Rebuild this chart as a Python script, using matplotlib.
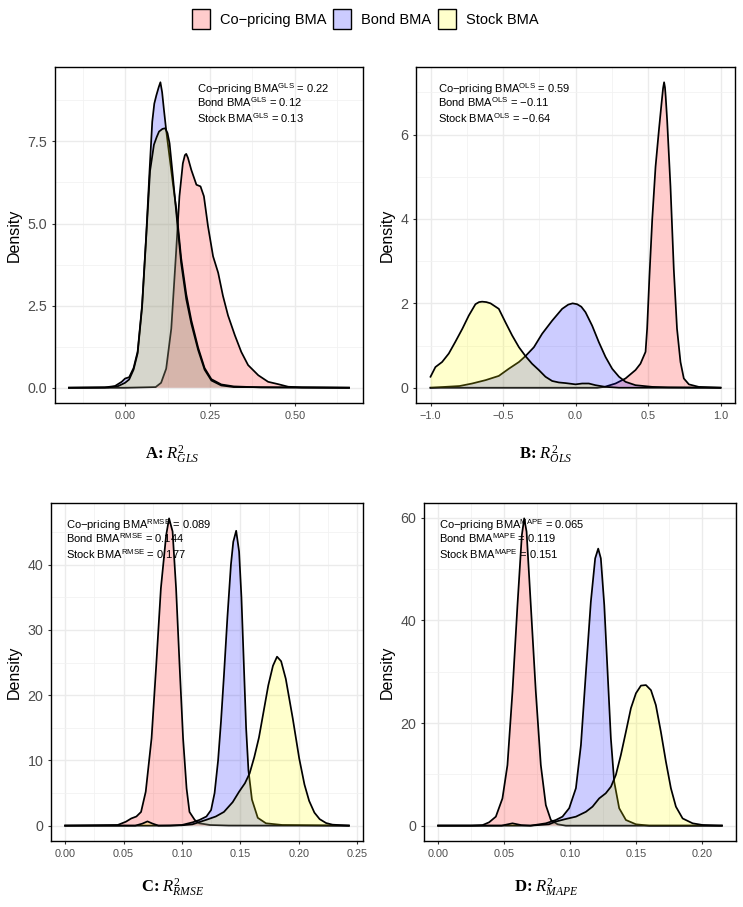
import matplotlib
matplotlib.use("Agg")
import matplotlib.pyplot as plt
from matplotlib.patches import Patch

plt.rcParams['font.family'] = ['Liberation Sans', 'DejaVu Sans']
plt.rcParams['mathtext.fontset'] = 'custom'
plt.rcParams['mathtext.rm'] = 'Liberation Sans'
plt.rcParams['mathtext.it'] = 'Liberation Serif:italic'
plt.rcParams['mathtext.bf'] = 'Liberation Serif:bold'
plt.rcParams['mathtext.sf'] = 'Liberation Serif'

# ---------------- data ----------------
series_names = ["Co\u2212pricing BMA", "Bond BMA", "Stock BMA"]
series_colors = ["#FFCCCC", "#CCCCFF", "#FFFFCC"]
fill_colors = ["red", "blue", "yellow"]

# Panel A: R2 GLS
A_cop_x = [-0.165, 0.0, 0.09, 0.106, 0.121, 0.136, 0.15, 0.16, 0.17, 0.176, 0.18, 0.185, 0.195, 0.21, 0.222, 0.232,
           0.244, 0.259, 0.274, 0.288, 0.303, 0.323, 0.342, 0.362, 0.392, 0.421, 0.45, 0.48, 0.52, 0.659]
A_cop_d = [0, 0, 0.02, 0.15, 0.58, 1.8, 4.1, 5.83, 6.83, 7.08, 7.12, 7.0, 6.63, 6.18, 6.13, 5.83,
           4.92, 4.0, 3.5, 2.8, 2.2, 1.6, 1.09, 0.69, 0.38, 0.18, 0.11, 0.03, 0.01, 0]
A_bond_x = [-0.165, -0.06, -0.03, -0.01, 0.0, 0.012, 0.025, 0.037, 0.05, 0.062, 0.072, 0.08, 0.086, 0.092,
            0.099, 0.104, 0.109, 0.114, 0.121, 0.13, 0.141, 0.151, 0.165, 0.18, 0.195, 0.215, 0.234,
            0.254, 0.283, 0.32, 0.40, 0.659]
A_bond_d = [0, 0.01, 0.05, 0.18, 0.28, 0.32, 0.6, 1.1, 2.5, 4.6, 6.6, 8.1, 8.65, 8.9,
            9.15, 9.3, 9.0, 8.5, 7.84, 7.1, 6.2, 5.42, 3.95, 2.85, 2.05, 1.22, 0.6,
            0.26, 0.1, 0.04, 0.01, 0]
A_stock_x = [-0.165, -0.05, -0.02, 0.0, 0.012, 0.025, 0.037, 0.05, 0.062, 0.0735, 0.085, 0.093, 0.1, 0.11,
             0.118, 0.125, 0.131, 0.141, 0.151, 0.165, 0.18, 0.195, 0.215, 0.234, 0.254, 0.283, 0.32, 0.659]
A_stock_d = [0, 0.01, 0.05, 0.15, 0.25, 0.55, 1.05, 2.45, 4.55, 6.6, 7.4, 7.63, 7.8, 7.88,
             7.9, 7.75, 7.44, 6.4, 5.3, 3.8, 2.7, 1.95, 1.15, 0.55, 0.22, 0.07, 0.02, 0]

# Panel B: R2 OLS
B_cop_x = [-1.0, 0.15, 0.2, 0.276, 0.345, 0.414, 0.448, 0.483, 0.494, 0.51, 0.529, 0.552, 0.575, 0.593,
           0.604, 0.611, 0.617, 0.622, 0.632, 0.655, 0.678, 0.70, 0.724, 0.747, 0.782, 0.85, 1.0]
B_cop_d = [0, 0, 0.02, 0.1, 0.22, 0.42, 0.57, 0.85, 1.4, 2.65, 3.98, 5.24, 6.1, 6.73,
           7.1, 7.24, 7.12, 6.9, 6.34, 4.77, 2.8, 1.4, 0.61, 0.22, 0.08, 0.02, 0]
B_bond_x = [-1.0, -0.8, -0.713, -0.62, -0.529, -0.46, -0.39, -0.345, -0.287, -0.23, -0.161, -0.092, -0.05,
            -0.02, 0.011, 0.04, 0.069, 0.115, 0.161, 0.207, 0.253, 0.3, 0.345, 0.414, 0.53, 0.64, 1.0]
B_bond_d = [0, 0.04, 0.1, 0.18, 0.28, 0.45, 0.61, 0.75, 0.96, 1.28, 1.59, 1.87, 1.97,
            2.0, 1.98, 1.92, 1.79, 1.47, 1.08, 0.73, 0.45, 0.26, 0.14, 0.06, 0.02, 0.01, 0]
B_stock_x = [-1.0, -0.966, -0.92, -0.874, -0.83, -0.78, -0.736, -0.69, -0.665, -0.644, -0.615, -0.586, -0.529,
             -0.483, -0.437, -0.39, -0.345, -0.30, -0.253, -0.207, -0.161, -0.115, -0.069, 0.0, 0.046, 0.092,
             0.138, 0.207, 0.3, 1.0]
B_stock_d = [0.26, 0.49, 0.61, 0.81, 1.08, 1.4, 1.71, 1.98, 2.03, 2.04, 2.03, 2.0, 1.87,
             1.55, 1.24, 0.96, 0.75, 0.57, 0.42, 0.26, 0.16, 0.125, 0.11, 0.08, 0.1, 0.1,
             0.06, 0.02, 0, 0]

# Panel C: R2 RMSE
C_cop_x = [0.0, 0.045, 0.052, 0.0566, 0.061, 0.065, 0.069, 0.074, 0.078, 0.082, 0.0865, 0.089, 0.092,
           0.095, 0.098, 0.101, 0.104, 0.1065, 0.111, 0.115, 0.124, 0.14, 0.243]
C_cop_d = [0, 0.1, 0.6, 1.1, 1.4, 2.1, 5.2, 13.4, 24.6, 36.4, 44.5, 47.1, 45.1,
           36.4, 24.6, 13.4, 5.7, 2.1, 0.87, 0.36, 0.1, 0.02, 0]
C_bond_x = [0.0, 0.09, 0.1, 0.109, 0.115, 0.121, 0.125, 0.128, 0.131, 0.1335, 0.136, 0.139, 0.142, 0.144,
            0.1465, 0.149, 0.151, 0.153, 0.155, 0.157, 0.16, 0.165, 0.172, 0.186, 0.243]
C_bond_d = [0, 0, 0.1, 0.5, 0.87, 1.4, 2.4, 5.0, 10.0, 16.0, 23.0, 32.0, 40.0, 43.5,
            45.2, 42.0, 35.0, 25.0, 15.0, 8.5, 4.0, 1.2, 0.36, 0.1, 0]
C_stock_x = [0.0, 0.06, 0.066, 0.0705, 0.075, 0.08, 0.1, 0.109, 0.121, 0.129, 0.136, 0.1435, 0.149, 0.154,
             0.158, 0.162, 0.166, 0.170, 0.174, 0.178, 0.1815, 0.185, 0.189, 0.195, 0.2005, 0.205, 0.209,
             0.2135, 0.218, 0.2235, 0.229, 0.243]
C_stock_d = [0, 0, 0.3, 0.65, 0.3, 0, 0.05, 0.2, 0.9, 1.4, 2.1, 3.6, 5.2, 6.5,
             8.0, 10.5, 13.5, 17.5, 21.5, 24.5, 25.9, 25.2, 22.5, 16.4, 10.3, 6.3, 3.8,
             2.0, 1.0, 0.4, 0.15, 0]

# Panel D: R2 MAPE
D_cop_x = [0.0, 0.025, 0.0336, 0.0386, 0.0437, 0.0487, 0.0525, 0.0563, 0.0601, 0.0634, 0.0652, 0.067,
           0.0702, 0.074, 0.0778, 0.0816, 0.0854, 0.0905, 0.0968, 0.215]
D_cop_d = [0, 0, 0.1, 0.65, 1.75, 5.3, 11.8, 26.1, 43.0, 56.6, 59.9, 57.3,
           43.0, 26.1, 11.8, 4.0, 1.1, 0.26, 0, 0]
D_bond_x = [0.0, 0.07, 0.0816, 0.0892, 0.0942, 0.0993, 0.1044, 0.1082, 0.112, 0.1157, 0.119, 0.1213,
            0.1233, 0.1259, 0.1284, 0.1309, 0.1334, 0.1372, 0.1423, 0.1499, 0.16, 0.215]
D_bond_d = [0, 0, 0.45, 1.1, 1.75, 3.4, 7.3, 15.7, 30.0, 43.6, 52.1, 54.0,
            52.1, 43.0, 30.0, 17.0, 8.6, 3.4, 1.1, 0.26, 0, 0]
D_stock_x = [0.0, 0.048, 0.0563, 0.063, 0.07, 0.084, 0.089, 0.0968, 0.1044, 0.112, 0.117, 0.122, 0.127,
             0.131, 0.1347, 0.1385, 0.1423, 0.1461, 0.1499, 0.1537, 0.1575, 0.1613, 0.165, 0.1688, 0.1726,
             0.1764, 0.1802, 0.1853, 0.1929, 0.2004, 0.213, 0.215]
D_stock_d = [0, 0, 0.45, 0.1, 0, 0.26, 0.78, 1.3, 1.75, 2.7, 3.7, 5.3, 6.3,
             7.6, 9.9, 13.8, 18.3, 22.9, 25.8, 27.3, 27.4, 26.4, 23.5, 18.3, 12.5,
             7.3, 3.7, 1.4, 0.45, 0.13, 0, 0]

# annotation values
A_means = ["0.22", "0.12", "0.13"]
B_means = ["0.59", "\u22120.11", "\u22120.64"]
C_means = ["0.089", "0.144", "0.177"]
D_means = ["0.065", "0.119", "0.151"]

A_xticks = [0.00, 0.25, 0.50]
A_yticks = [0.0, 2.5, 5.0, 7.5]
B_xticks = [-1.0, -0.5, 0.0, 0.5, 1.0]
B_yticks = [0, 2, 4, 6]
C_xticks = [0.00, 0.05, 0.10, 0.15, 0.20, 0.25]
C_yticks = [0, 10, 20, 30, 40]
D_xticks = [0.00, 0.05, 0.10, 0.15, 0.20]
D_yticks = [0, 20, 40, 60]

# ---------------- figure ----------------
W, H = 743, 907
fig = plt.figure(figsize=(W / 100, H / 100), dpi=100)


def px_rect(left, top, right, bottom):
    return [left / W, 1 - bottom / H, (right - left) / W, (bottom - top) / H]


def fmt_tick(v, nd):
    s = f"{v:.{nd}f}"
    return s.replace("-", "\u2212")


panels = [
    dict(rect=px_rect(55, 67, 363, 403), series=[(A_cop_x, A_cop_d), (A_bond_x, A_bond_d), (A_stock_x, A_stock_d)],
         sup="GLS", means=A_means, xt=A_xticks, yt=A_yticks, xnd=2, ynd=1, ann_x=0.462,
         label=r"A: $R^{\mathsf{2}}_{GLS}$", lab_xy=(172.5, 460)),
    dict(rect=px_rect(416, 67, 735, 403), series=[(B_cop_x, B_cop_d), (B_bond_x, B_bond_d), (B_stock_x, B_stock_d)],
         sup="OLS", means=B_means, xt=B_xticks, yt=B_yticks, xnd=1, ynd=0, ann_x=0.070,
         label=r"B: $R^{\mathsf{2}}_{OLS}$", lab_xy=(546, 460)),
    dict(rect=px_rect(51, 503, 363, 841), series=[(C_cop_x, C_cop_d), (C_bond_x, C_bond_d), (C_stock_x, C_stock_d)],
         sup="RMSE", means=C_means, xt=C_xticks, yt=C_yticks, xnd=2, ynd=0, ann_x=0.047,
         label=r"C: $R^{\mathsf{2}}_{RMSE}$", lab_xy=(173, 893)),
    dict(rect=px_rect(424, 503, 736, 841), series=[(D_cop_x, D_cop_d), (D_bond_x, D_bond_d), (D_stock_x, D_stock_d)],
         sup="MAPE", means=D_means, xt=D_xticks, yt=D_yticks, xnd=2, ynd=0, ann_x=0.048,
         label=r"D: $R^{\mathsf{2}}_{MAPE}$", lab_xy=(546.5, 893)),
]

for p in panels:
    ax = fig.add_axes(p["rect"])
    xmin = min(min(s[0]) for s in p["series"])
    xmax = max(max(s[0]) for s in p["series"])
    ymax = max(max(s[1]) for s in p["series"])
    xr = xmax - xmin
    xlim = (xmin - 0.05 * xr, xmax + 0.05 * xr)
    ylim = (-0.05 * ymax, ymax * 1.05)

    for i, (xs, ds) in enumerate(p["series"]):
        ax.fill_between(xs, ds, 0, facecolor=fill_colors[i], alpha=0.2, linewidth=0, zorder=2 + i)
        ax.plot(xs, ds, color="black", lw=1.25, zorder=2.5 + i, solid_joinstyle="round")

    xt = p["xt"]
    yt = p["yt"]
    ax.set_xticks(xt)
    ax.set_yticks(yt)
    ax.set_xticklabels([fmt_tick(v, p["xnd"]) for v in xt], fontsize=7.8, color="#4D4D4D")
    ax.set_yticklabels([fmt_tick(v, p["ynd"]) for v in yt], fontsize=10.3, color="#4D4D4D")
    dx = xt[1] - xt[0]
    dy = yt[1] - yt[0]
    xminor = [v for v in [xt[0] - dx / 2] + [v + dx / 2 for v in xt] if xlim[0] <= v <= xlim[1]]
    yminor = [v for v in [v + dy / 2 for v in yt] if ylim[0] <= v <= ylim[1]]
    ax.set_xticks(xminor, minor=True)
    ax.set_yticks(yminor, minor=True)
    ax.set_xlim(*xlim)
    ax.set_ylim(*ylim)
    ax.set_axisbelow(True)
    ax.grid(which="major", color="#EBEBEB", lw=1.0)
    ax.grid(which="minor", color="#F2F2F2", lw=0.6)
    ax.tick_params(which="major", length=2.5, width=0.8, color="#333333", pad=3)
    ax.tick_params(which="minor", length=0)
    for sp in ax.spines.values():
        sp.set_color("black")
        sp.set_linewidth(1.0)
    ax.set_ylabel("Density", fontsize=11.5, labelpad=4)

    # annotation
    offs = [26, 40, 56]
    hpx = p["rect"][3] * H
    for i, nm in enumerate(series_names):
        ax.text(p["ann_x"], 1 - offs[i] / hpx,
                nm + r"$^{\mathrm{" + p["sup"] + r"}}$" + " = " + p["means"][i],
                transform=ax.transAxes, fontsize=8, va="baseline", ha="left", zorder=10)

    fig.text(p["lab_xy"][0] / W, 1 - p["lab_xy"][1] / H, p["label"], fontsize=12,
             family="Liberation Serif", weight="bold", ha="center", va="baseline")

handles = [Patch(facecolor=series_colors[i], edgecolor="black", linewidth=1.0) for i in range(3)]
fig.legend(handles, series_names, loc="center", bbox_to_anchor=(365 / W, 1 - 19 / H), ncol=3,
           frameon=False, fontsize=10.5, handlelength=1.23, handleheight=1.78, handletextpad=0.7,
           columnspacing=0.45)

fig.savefig("out.png", dpi=100)
